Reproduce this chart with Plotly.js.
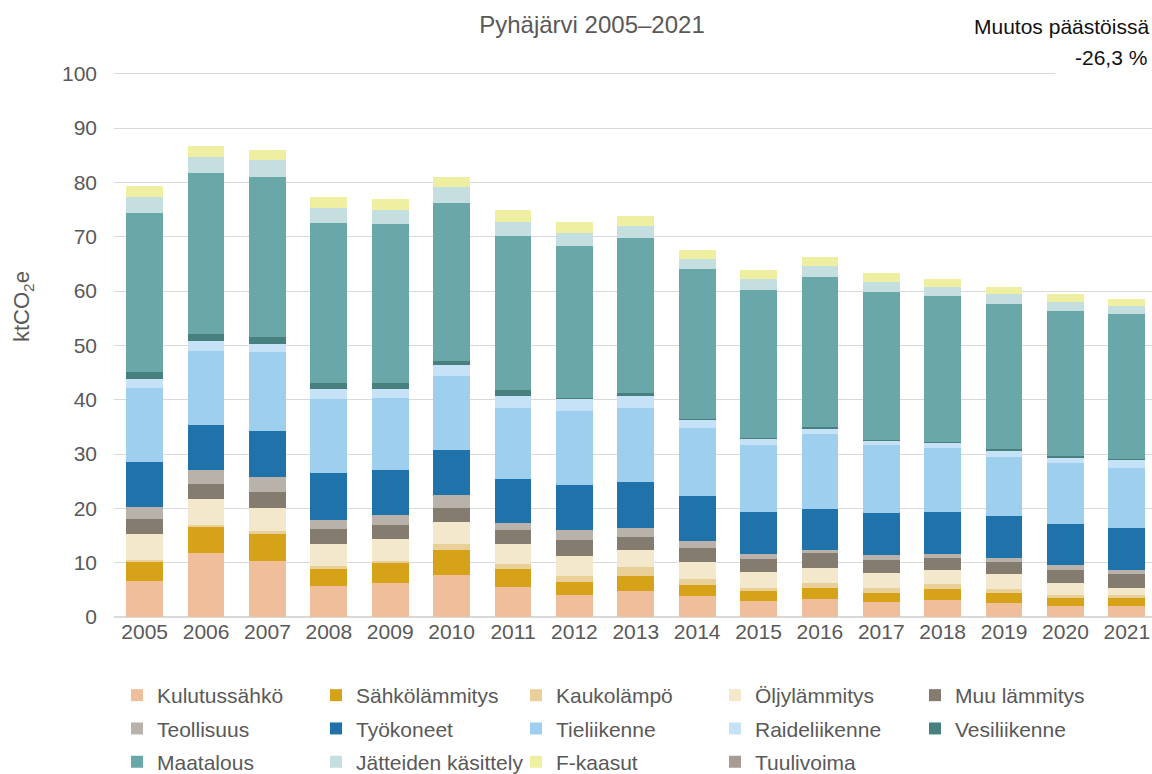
<!DOCTYPE html>
<html>
<head>
<meta charset="utf-8">
<script src="https://cdn.plot.ly/plotly-3.0.1.min.js"></script>
<style>
  html, body { margin: 0; padding: 0; background: #fff; }
  #chart { width: 1152px; height: 774px; }
</style>
</head>
<body>
<div id="chart"></div>
<script>
// ---- Data (ktCO2e) ----
const years = ['2005','2006','2007','2008','2009','2010','2011','2012','2013','2014','2015','2016','2017','2018','2019','2020','2021'];

const seriesNames = ['Kulutussähkö','Sähkölämmitys','Kaukolämpö','Öljylämmitys','Muu lämmitys',
                     'Teollisuus','Työkoneet','Tieliikenne','Raideliikenne','Vesiliikenne',
                     'Maatalous','Jätteiden käsittely','F-kaasut','Tuulivoima'];

const kulutussahko  = [6.65, 11.7, 10.3, 5.7, 6.35, 7.7, 5.5, 4.1, 4.75, 3.95, 2.95, 3.25, 2.8, 3.2, 2.65, 2.05, 2.05];
const sahkolammitys = [3.4, 4.8, 5.05, 3.25, 3.55, 4.55, 3.25, 2.4, 2.75, 2.0, 1.85, 2.15, 1.7, 2.0, 1.85, 1.5, 1.4];
const kaukolampo    = [0.45, 0.4, 0.5, 0.35, 0.45, 1.25, 1.05, 1.1, 1.75, 1.1, 0.6, 0.8, 0.8, 0.8, 0.7, 0.5, 0.55];
const oljylammitys  = [4.75, 4.9, 4.3, 4.05, 4.0, 4.0, 3.55, 3.7, 3.0, 3.05, 2.8, 2.9, 2.8, 2.6, 2.65, 2.3, 1.3];
const muuLammitys   = [2.8, 2.75, 2.95, 2.8, 2.6, 2.65, 2.6, 2.8, 2.55, 2.6, 2.45, 2.6, 2.45, 2.35, 2.3, 2.25, 2.55];
const teollisuus    = [2.15, 2.45, 2.6, 1.65, 1.9, 2.3, 1.35, 1.85, 1.5, 1.35, 0.95, 0.7, 0.9, 0.6, 0.65, 1.0, 0.85];
const tyokoneet     = [8.4, 8.4, 8.5, 8.7, 8.3, 8.2, 8.1, 8.35, 8.6, 8.2, 7.7, 7.55, 7.65, 7.85, 7.8, 7.6, 7.6];
const tieliikenne   = [13.55, 13.55, 14.5, 13.65, 13.2, 13.7, 13.1, 13.6, 13.6, 12.5, 12.3, 13.75, 12.55, 11.7, 10.9, 11.1, 11.05];
const raideliikenne = [1.6, 1.8, 1.6, 1.85, 1.7, 2.0, 2.15, 2.35, 2.1, 1.65, 1.25, 1.0, 0.8, 1.0, 1.1, 1.1, 1.55];
const vesiliikenne  = [1.35, 1.3, 1.25, 1.1, 1.1, 0.75, 1.05, 0.1, 0.7, 0.05, 0.05, 0.2, 0.1, 0.05, 0.25, 0.15, 0.25];
const maatalous     = [29.35, 29.75, 29.4, 29.35, 29.1, 29.1, 28.4, 27.85, 28.5, 27.55, 27.35, 27.7, 27.2, 26.95, 26.8, 26.75, 26.55];
const jatteet       = [2.95, 2.95, 3.1, 2.9, 2.75, 2.9, 2.65, 2.45, 2.2, 1.95, 2.05, 2.0, 2.0, 1.65, 1.75, 1.7, 1.6];
const fkaasut       = [2.0, 2.0, 1.95, 2.0, 1.95, 1.95, 2.1, 2.0, 1.9, 1.6, 1.65, 1.65, 1.6, 1.5, 1.3, 1.4, 1.3];
const tuulivoima    = [0, 0, 0, 0, 0, 0, 0, 0, 0, 0, 0, 0, 0, 0, 0, 0, 0];

const seriesValues = [kulutussahko, sahkolammitys, kaukolampo, oljylammitys, muuLammitys,
                      teollisuus, tyokoneet, tieliikenne, raideliikenne, vesiliikenne,
                      maatalous, jatteet, fkaasut, tuulivoima];

const changeLabel = 'Muutos päästöissä';
const changeValue = '-26,3 %';

// ---- Styles ----
const colors = ['#EFBF9B','#D6A318','#E9CF98','#F3E8CB','#847C6E',
                '#B8B2AA','#1F73AA','#9ECFEE','#C5E2F6','#488080',
                '#6AA7A9','#C5DFE1','#EEEFA0','#A69C92'];
const legendIds = ['legend','legend2','legend3','legend4','legend5'];

const FONT = '"Liberation Sans", Arial, sans-serif';
const GREY = '#595959';

const traces = seriesNames.map((name, i) => ({
  type: 'bar',
  name: name,
  x: years,
  y: seriesValues[i],
  marker: { color: colors[i], line: { width: 0 } },
  legend: legendIds[i % 5],
  legendgroup: 'g' + i,
  hoverinfo: 'x+y+name'
}));

// plot area geometry (px)
const W = 1152, H = 774;
const mL = 114, mR = 0, mT = 71, mB = 157;
const pw = W - mL - mR, ph = H - mT - mB;
const px2x = p => (p - mL) / pw;
const px2y = p => (H - mB - p) / ph;

const legendFont = { family: FONT, size: 21, color: GREY };
const legendTextStarts = [157, 356, 556, 755, 955];
const legendTop = 675;
const legends = {};
legendIds.forEach((id, k) => {
  legends[id] = {
    x: px2x(legendTextStarts[k] - 40), xanchor: 'left',
    y: px2y(legendTop), yanchor: 'top',
    orientation: 'v',
    traceorder: 'grouped',
    tracegroupgap: 3,
    font: legendFont,
    bgcolor: 'rgba(0,0,0,0)',
    borderwidth: 0
  };
});

const layout = Object.assign({
  width: W, height: H,
  margin: { l: mL, r: mR, t: mT, b: mB, pad: 0, autoexpand: false },
  paper_bgcolor: '#ffffff',
  plot_bgcolor: '#ffffff',
  font: { family: FONT, color: GREY },
  barmode: 'stack',
  bargap: 0.4,
  showlegend: true,
  title: {
    text: 'Pyhäjärvi 2005–2021',
    font: { family: FONT, size: 24, color: GREY },
    xref: 'container', yref: 'container',
    x: 592 / W, y: 1 - 25 / H, xanchor: 'center', yanchor: 'middle'
  },
  xaxis: {
    type: 'category',
    range: [-0.5, 16.41],
    showgrid: false,
    showline: false,
    zeroline: false,
    ticks: '',
    tickfont: { family: FONT, size: 21, color: GREY },
    fixedrange: true
  },
  yaxis: {
    range: [0, 100.5],
    dtick: 10,
    tick0: 0,
    showgrid: true,
    gridcolor: '#D9D9D9',
    gridwidth: 1.3,
    zeroline: true,
    zerolinecolor: '#D9D9D9',
    zerolinewidth: 1.5,
    showline: false,
    ticks: '',
    ticklabelstandoff: 16,
    tickfont: { family: FONT, size: 21, color: GREY },
    fixedrange: true
  },
  shapes: [{
    type: 'rect', xref: 'paper', yref: 'paper', layer: 'above',
    x0: px2x(1055), x1: 1.0, y0: px2y(84), y1: px2y(66),
    fillcolor: '#ffffff', line: { width: 0 }
  }],
  annotations: [
    {
      text: changeLabel, xref: 'paper', yref: 'paper',
      x: px2x(1151), y: px2y(26), xanchor: 'right', yanchor: 'middle',
      showarrow: false, font: { family: FONT, size: 21, color: '#111111' }
    },
    {
      text: changeValue, xref: 'paper', yref: 'paper',
      x: px2x(1149), y: px2y(57), xanchor: 'right', yanchor: 'middle',
      showarrow: false, font: { family: FONT, size: 21, color: '#111111' }
    },
    {
      text: 'ktCO<sub>2</sub>e', xref: 'paper', yref: 'paper',
      x: px2x(23), y: px2y(307), xanchor: 'center', yanchor: 'middle',
      textangle: -90, showarrow: false,
      font: { family: FONT, size: 22, color: GREY }
    }
  ]
}, legends);

Plotly.newPlot('chart', traces, layout, { displayModeBar: false, responsive: false, staticPlot: false });
</script>
</body>
</html>
